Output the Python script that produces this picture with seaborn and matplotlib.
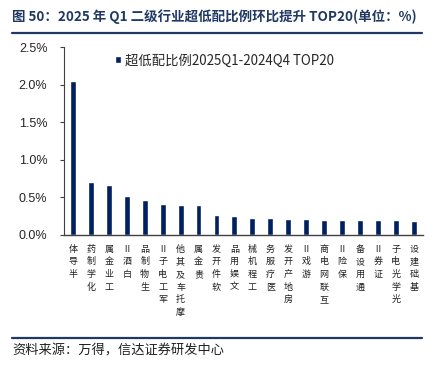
import matplotlib
matplotlib.use("Agg")
import matplotlib.pyplot as plt
import seaborn as sns
import pandas as pd
from matplotlib.lines import Line2D

# data (unit: %)
industries = ["半导体", "化学制药", "工业金属", "白酒Ⅱ", "生物制品", "军工电子Ⅱ",
              "摩托车及其他", "贵金属", "软件开发", "文娱用品", "工程机械", "医疗服务",
              "房地产开发", "游戏Ⅱ", "互联网电商", "保险Ⅱ", "通用设备", "证券Ⅱ",
              "光学光电子", "基础建设"]
values = [2.05, 0.70, 0.67, 0.52, 0.46, 0.41, 0.405, 0.40, 0.265, 0.25,
          0.22, 0.22, 0.215, 0.21, 0.205, 0.20, 0.195, 0.195, 0.195, 0.18]
series_name = "超低配比例2025Q1-2024Q4 TOP20"
title = "图 50：2025 年 Q1 二级行业超低配比例环比提升 TOP20(单位：%)"
source = "资料来源：万得，信达证券研发中心"
yticks = [0.0, 0.5, 1.0, 1.5, 2.0, 2.5]

df = pd.DataFrame({"行业": industries, "值": values, "系列": series_name})

sns.set_style("white")
plt.rcParams["font.family"] = ["Noto Sans CJK SC", "DejaVu Sans"]
plt.rcParams["axes.unicode_minus"] = False

navy = "#002060"
dark = "#1F3864"

fig = plt.figure(figsize=(4.4, 3.74), dpi=100)
ax = fig.add_axes([0.1455, 0.3717, 0.8152, 0.5018])

sns.barplot(df, x="行业", y="值", hue="系列", palette=[navy],
            width=0.33, ax=ax, legend=True, saturation=1)

ax.set_ylim(0, 2.5)
ax.set_xlim(-0.5, len(industries) - 0.5)
ax.set_yticks(yticks)
ax.set_yticklabels([f"{v:.1f}%" for v in yticks], family="Liberation Sans", fontsize=9)
ax.tick_params(axis="y", direction="out", length=3, width=0.8, color="#404040", pad=9, left=True)
ax.tick_params(axis="x", length=0, pad=7)

ax.set_xticks(range(len(industries)))
ax.set_xticklabels(["\n".join(reversed(s)) for s in industries], fontsize=6.5,
                   linespacing=1.52, color="#202020")
ax.set_xlabel(None)
ax.set_ylabel(None)

for side in ["top", "right"]:
    ax.spines[side].set_visible(False)
ax.spines["left"].set_color("#404040")
ax.spines["left"].set_linewidth(0.8)
ax.spines["bottom"].set_color("#404040")
ax.spines["bottom"].set_linewidth(1.0)

ax.legend(loc="center left", bbox_to_anchor=(0.261, 0.838), bbox_transform=fig.transFigure,
          frameon=False, fontsize=9.6, handlelength=0.45, handleheight=0.45,
          handletextpad=0.3, borderpad=0, borderaxespad=0)

# header / footer
fig.text(0.027, 0.955, title, fontsize=9.7, fontweight="bold", color=dark, va="center", ha="left")
fig.add_artist(Line2D([0.027, 0.959], [0.912, 0.912], color=dark, lw=1.6, transform=fig.transFigure))
fig.add_artist(Line2D([0.027, 0.959], [0.096, 0.096], color=dark, lw=1.6, transform=fig.transFigure))
fig.text(0.027, 0.061, source, fontsize=9.5, style="italic", color="#202020", va="center", ha="left")

fig.savefig("out.png", dpi=100)
